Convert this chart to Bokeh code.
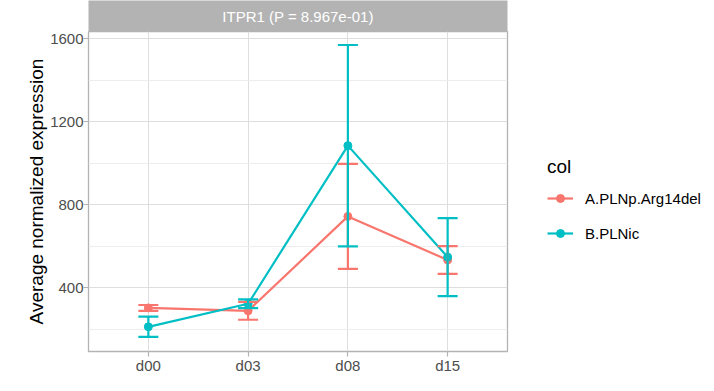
from bokeh.plotting import figure
from bokeh.models import (Range1d, FixedTicker, ColumnDataSource, Whisker, TeeHead,
                          Legend, LegendItem, Label)
from bokeh.layouts import column
from bokeh.embed import file_html
from bokeh.resources import INLINE

days = ["d00", "d03", "d08", "d15"]
groups = ["A.PLNp.Arg14del", "B.PLNic"]
colors = ["#F8766D", "#00BFC4"]
mean_a = [304, 290, 745, 535]
err_a = [14, 43, 253, 67]
mean_b = [213, 324, 1086, 549]
err_b = [49, 21, 485, 188]
y_ticks = [400, 800, 1200, 1600]
y_minor = [200, 600, 1000, 1400]
strip_text = "ITPR1 (P = 8.967e-01)"
y_label = "Average normalized expression"
legend_title = "col"

FONT = "Liberation Sans"
FW = 419
FH = 320
LEFT = 88
RIGHT = 191

xpos = list(range(1, len(days) + 1))

# ---- strip (facet label) ----
s = figure(frame_width=FW, frame_height=31, x_range=Range1d(0, 1), y_range=Range1d(0, 1),
           toolbar_location=None, output_backend="svg",
           min_border_left=LEFT, min_border_right=RIGHT,
           min_border_top=0, min_border_bottom=0,
           x_axis_type=None, y_axis_type=None)
s.background_fill_color = "#B3B3B3"
s.border_fill_color = "white"
s.outline_line_color = None
s.xgrid.visible = False
s.ygrid.visible = False
s.add_layout(Label(x=0.5, y=0.5, text=strip_text, text_align="center",
                   text_baseline="middle", text_color="white",
                   text_font=FONT, text_font_size="15px"))

# ---- main panel ----
p = figure(frame_width=FW, frame_height=FH, x_range=Range1d(0.4, 4.6), y_range=Range1d(94, 1636),
           toolbar_location=None, output_backend="svg",
           min_border_left=LEFT, min_border_right=RIGHT,
           min_border_top=0, min_border_bottom=0)
p.background_fill_color = "white"
p.border_fill_color = "white"
p.outline_line_color = "#B3B3B3"
p.outline_line_width = 1.3

xt = FixedTicker(ticks=xpos)
yt = FixedTicker(ticks=y_ticks, minor_ticks=y_minor)
p.xaxis.ticker = xt
p.yaxis.ticker = yt
p.xgrid.ticker = xt
p.ygrid.ticker = yt
p.xaxis.major_label_overrides = {x: d for x, d in zip(xpos, days)}

for ax in (p.xaxis, p.yaxis):
    ax.axis_line_color = None
    ax.major_tick_line_color = "#B3B3B3"
    ax.major_tick_line_width = 1.2
    ax.major_tick_out = 5
    ax.major_tick_in = 0
    ax.minor_tick_line_color = None
    ax.major_label_text_font = FONT
    ax.major_label_text_font_size = "15px"
    ax.major_label_text_color = "#4D4D4D"
    ax.major_label_standoff = 0

p.yaxis.axis_label = y_label
p.yaxis.axis_label_text_font = FONT
p.yaxis.axis_label_text_font_size = "19px"
p.yaxis.axis_label_text_font_style = "normal"
p.yaxis.axis_label_text_color = "black"
p.yaxis.axis_label_standoff = 0

p.xgrid.grid_line_color = "#DEDEDE"
p.xgrid.grid_line_width = 1
p.ygrid.grid_line_color = "#DEDEDE"
p.ygrid.grid_line_width = 1
p.ygrid.minor_grid_line_color = "#EDEDED"
p.ygrid.minor_grid_line_width = 1

series = [(mean_a, err_a), (mean_b, err_b)]
sources = []
for (m, e) in series:
    sources.append(ColumnDataSource(dict(
        x=xpos, y=m,
        lo=[a - b for a, b in zip(m, e)],
        hi=[a + b for a, b in zip(m, e)])))

line_r = []
for src, c in zip(sources, colors):
    line_r.append(p.line("x", "y", source=src, line_color=c, line_width=2.2))
pt_r = []
for src, c in zip(sources, colors):
    pt_r.append(p.scatter("x", "y", source=src, marker="circle", size=8,
                          fill_color=c, line_color=c))
for src, c in zip(sources, colors):
    w = Whisker(base="x", upper="hi", lower="lo", source=src, dimension="height",
                line_color=c, line_width=2.2,
                upper_head=TeeHead(size=20, line_color=c, line_width=2.2),
                lower_head=TeeHead(size=20, line_color=c, line_width=2.2))
    w.level = "glyph"
    p.add_layout(w)

legend = Legend(items=[LegendItem(label=g, renderers=[l, r])
                       for g, l, r in zip(groups, line_r, pt_r)],
                title=legend_title, location=(40, 108))
legend.title_text_font = FONT
legend.title_text_font_size = "19px"
legend.title_text_font_style = "normal"
legend.title_text_color = "black"
legend.title_standoff = 10
legend.label_text_font = FONT
legend.label_text_font_size = "15px"
legend.label_text_color = "black"
legend.glyph_width = 26
legend.glyph_height = 20
legend.label_height = 20
legend.label_standoff = 12
legend.spacing = 15
legend.padding = 8
legend.margin = 0
legend.border_line_color = None
legend.background_fill_alpha = 0
p.add_layout(legend, "right")

layout = column(s, p, spacing=0)
open("out.html", "w").write(file_html(layout, INLINE))
